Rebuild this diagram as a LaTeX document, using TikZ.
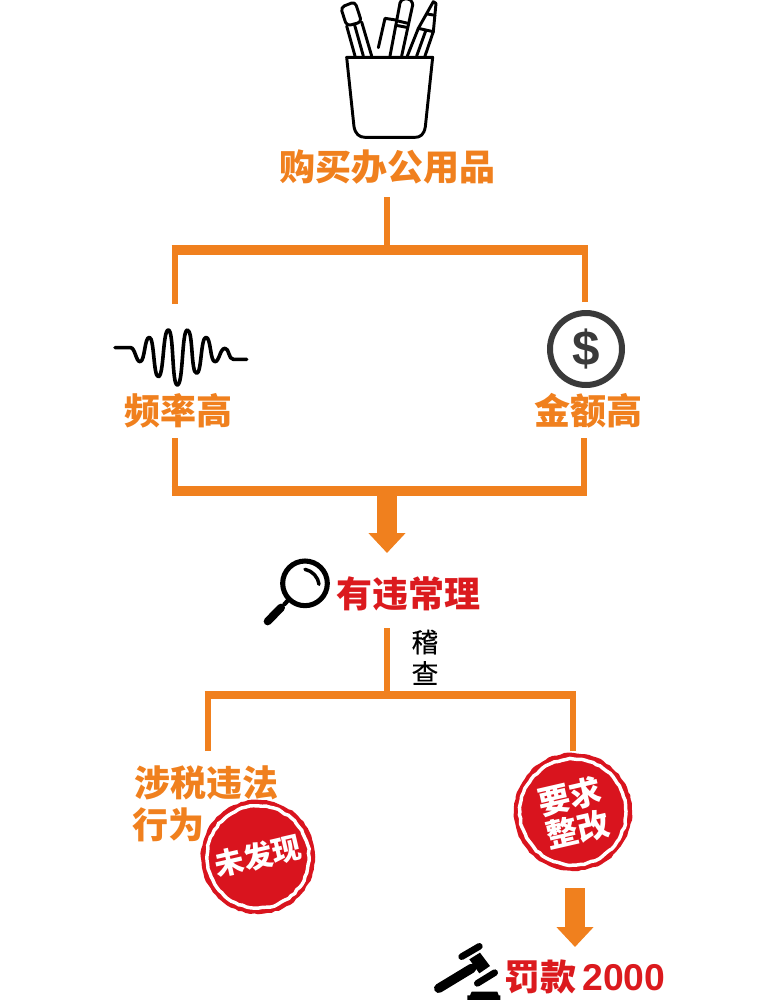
\documentclass[tikz,border=0pt]{standalone}
\usepackage{fontspec}
\setmainfont{Liberation Sans}
\newfontfamily\cjk{Noto Sans CJK SC}
\newfontfamily\cjkm[FakeBold=0.4]{Noto Sans CJK SC}
\usetikzlibrary{arrows.meta,decorations.pathmorphing}
\definecolor{brandorange}{HTML}{F0801E}
\definecolor{stampred}{HTML}{D9141E}
\definecolor{textred}{HTML}{DB1A1E}
\definecolor{icongray}{HTML}{3A3A3A}
\tikzset{
  hbar/.style={draw=brandorange,line width=7pt},
  vbar/.style={draw=brandorange,line width=5.2pt},
  fat/.style={draw=brandorange,line width=15pt,-{Triangle[width=27pt,length=15pt]}},
  otext/.style={text=brandorange,font=\cjk\bfseries\fontsize{27}{32}\selectfont,inner sep=0pt},
  rtext/.style={text=textred,font=\cjk\bfseries\fontsize{27}{32}\selectfont,inner sep=0pt},
  btext/.style={text=black,font=\cjkm\fontsize{20}{24}\selectfont,inner sep=0pt},
  icon/.style={draw=black,line cap=round,line join=round},
  rough/.style={decorate,decoration={random steps,segment length=3pt,amplitude=0.5pt}},
}
\begin{document}
\begin{tikzpicture}[x=0.75pt,y=-0.75pt]
\useasboundingbox (0,0) rectangle (774,1000);
% ---- coordinates
\coordinate (top) at (387,197);
\coordinate (j1) at (387,250);
\coordinate (a1) at (175,304);
\coordinate (a2) at (175,250);
\coordinate (b1) at (585,302);
\coordinate (b2) at (585,250);
\coordinate (c1) at (175,438);
\coordinate (c2) at (175,491);
\coordinate (d1) at (584,438);
\coordinate (d2) at (584,491);
\coordinate (ar1) at (387,495);
\coordinate (ar2) at (387,553);
\coordinate (s1) at (387,628);
\coordinate (j2) at (387,695);
\coordinate (e1) at (208,751);
\coordinate (e2) at (208,695);
\coordinate (f1) at (573,751);
\coordinate (f2) at (573,695);
\coordinate (ar3) at (575,888);
\coordinate (ar4) at (575,947);
% ---- labels
\node[otext] (buy) at (387.5,167) {购买办公用品};
\node[otext] (freq) at (178.5,411) {频率高};
\node[otext] (amt) at (588,411) {金额高};
\node[rtext] (odd) at (408,594) {有违常理};
\node[btext] (check1) at (425,642) {稽};
\node[btext] (check2) at (425,673) {查};
\node[otext,anchor=west] (illegal) at (134,783) {涉税违法};
\node[otext,anchor=west] (act) at (132.5,825) {行为};
\node[rtext,anchor=west] (fine) at (504,977) {罚款\hspace{4.5pt}{\rmfamily\bfseries\fontsize{28}{32}\selectfont 2000}};
% ---- connectors
\draw[vbar] (top) -- (j1);
\draw[hbar] ([xshift=-2.6pt]a2) -- ([xshift=2.6pt]b2);
\draw[vbar] (a1) -- (a2);
\draw[vbar] (b1) -- (b2);
\draw[hbar] ([xshift=-2.6pt]c2) -- ([xshift=2.6pt]d2);
\draw[vbar] (c1) -- (c2);
\draw[vbar] (d1) -- (d2);
\draw[fat] (ar1) -- (ar2);
\draw[vbar] (s1) -- (j2);
\draw[hbar,line width=5.6pt] ([xshift=-2.6pt]e2) -- ([xshift=2.6pt]f2);
\draw[vbar] (e1) -- (e2);
\draw[vbar] (f1) -- (f2);
\draw[fat] (ar3) -- (ar4);
% ---- pencil cup
\begin{scope}[shift={(320,0)},x=0.25pt,y=-0.25pt,icon,line width=2.2pt]
  \draw (80,172) -- (338,172) -- (316,380) .. controls (312,405) and (300,412) .. (285,412) -- (135,412) .. controls (118,412) and (106,402) .. (102,380) -- cycle;
  \draw[rounded corners=3pt] (80,78) -- (62,22) -- (105,5) -- (125,66) -- cycle;
  \draw (80,78) -- (105,168) (103,72) -- (130,168) (125,66) -- (155,168);
  \draw (175,143) -- (195,55) -- (228,60);
  \draw (210,168) -- (238,20) (245,168) -- (278,15);
  \draw[rounded corners=3pt] (238,20) -- (242,-3) -- (275,-3) -- (278,15);
  \draw (230,62) -- (264,70) (228,76) -- (260,82);
  \draw (262,168) -- (295,85) -- (340,5) -- (348,10) -- (340,95) -- (315,168);
  \draw (295,85) -- (340,95) (290,168) -- (318,90) (322,42) -- (345,46);
\end{scope}
% ---- wave
\begin{scope}[shift={(100,310)},x=0.25pt,y=-0.25pt]
  \draw[icon,line width=2.7pt] (45,113) -- (92,113)
    .. controls (105,113) and (108,155) .. (120,155)
    .. controls (135,155) and (133,82) .. (148,82)
    .. controls (163,82) and (160,200) .. (175,200)
    .. controls (192,200) and (188,60) .. (205,60)
    .. controls (222,60) and (215,225) .. (232,225)
    .. controls (250,225) and (245,60) .. (262,60)
    .. controls (280,60) and (272,190) .. (290,190)
    .. controls (305,190) and (302,82) .. (318,82)
    .. controls (333,82) and (330,155) .. (345,155)
    .. controls (358,155) and (360,115) .. (375,115)
    .. controls (388,115) and (385,148) .. (400,148) -- (440,148);
\end{scope}
% ---- dollar coin
\node[draw=icongray,circle,line width=4.5pt,minimum size=54pt,inner sep=0pt,text=icongray,font=\rmfamily\bfseries\fontsize{37}{40}\selectfont] (coin) at (586,349) {\$};
% ---- magnifier
\begin{scope}[shift={(255,550)},x=0.25pt,y=-0.25pt]
  \draw[icon,line width=3.8pt] (150,100) circle[radius=67];
  \draw[icon,line width=2.6pt] (150,58) .. controls (172,62) and (190,82) .. (192,103);
  \draw[icon,line width=3.2pt] (100,150) -- (88,163);
  \draw[icon,line width=6pt] (78,173) -- (38,214);
\end{scope}
% ---- gavel
\begin{scope}[shift={(420,930)},x=0.25pt,y=-0.25pt]
  \fill[black] (148,88) -- (180,68) -- (210,108) -- (178,130) -- cycle;
  \draw[icon,line width=5pt] (125,80) -- (178,49);
  \draw[icon,line width=5pt] (172,160) -- (224,128);
  \draw[icon,line width=7pt] (56,175) -- (155,115);
  \fill[black] (155,185) -- (232,185) -- (236,196) -- (241,196) -- (241,210) -- (142,210) -- (142,196) -- (150,196) -- cycle;
\end{scope}
% ---- stamps
\fill[stampred,rough] (258,857) circle[radius=57];
\draw[white,line width=2.6pt,rough] (258,857) circle[radius=51];
\node[text=white,font=\cjk\bfseries\fontsize{22}{24}\selectfont,rotate=13,inner sep=0pt] (st1) at (258,856) {未发现};
\fill[stampred,rough] (573,812) circle[radius=59];
\draw[white,line width=2.6pt,rough] (573,812) circle[radius=53];
\node[text=white,font=\cjk\bfseries\fontsize{24}{26}\selectfont,rotate=13,inner sep=0pt,align=center] (st2) at (574,813) {要求\\整改};
\end{tikzpicture}
\end{document}
